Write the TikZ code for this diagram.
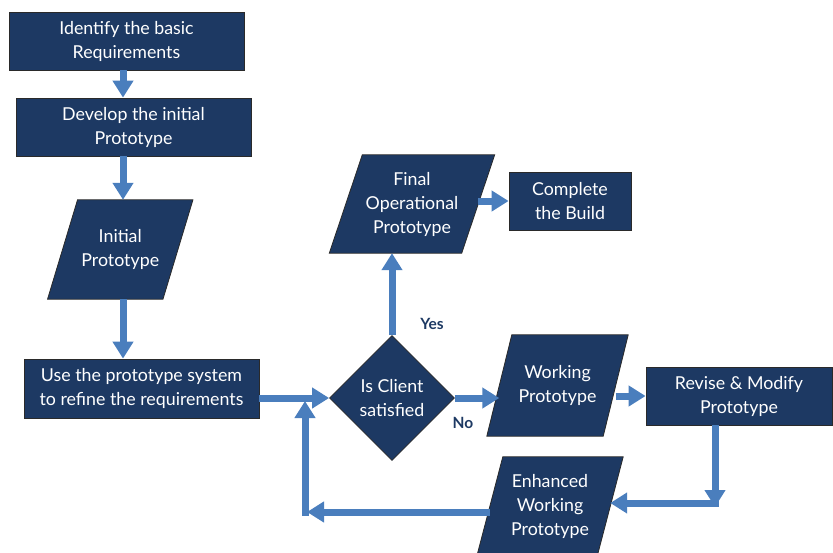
\documentclass[tikz,border=0pt]{standalone}
\usepackage{fontspec}
\setmainfont{Lato}
\usetikzlibrary{arrows.meta,shapes.geometric,backgrounds,calc}
\definecolor{navy}{HTML}{1D3963}
\definecolor{flow}{HTML}{4A7EBD}
\definecolor{edge}{HTML}{2A2A2A}
\begin{document}
\begin{tikzpicture}[x=1pt,y=-1pt,
  label text/.style={text=white, align=center, inner sep=0pt,
    font=\fontsize{17.8}{24}\selectfont},
  stepbox/.style={label text, draw=edge, line width=0.8pt, fill=navy},
  slab/.style={label text},
  decision/.style={label text, diamond, aspect=1, fill=navy, draw=edge, line width=0.8pt},
  answer/.style={text=navy, font=\fontsize{15.5}{18}\selectfont\bfseries, inner sep=0pt},
  flow/.style={draw=flow, line width=7pt, -{Triangle[width=20pt,length=17pt]}}]
\useasboundingbox (0,0) rectangle (833,552);
\clip (0,0) rectangle (833,552);

% main column
\node[stepbox, minimum width=235pt, minimum height=58pt] (ident) at (126.5,41)
  {Identify the basic\\Requirements};
\node[stepbox, minimum width=235pt, minimum height=58pt] (devel) at (133.5,127)
  {Develop the initial\\Prototype};
\node[slab, minimum width=115pt, minimum height=99pt] (init) at (120.25,249.5)
  {Initial\\Prototype};
\node[stepbox, minimum width=235pt, minimum height=59pt] (use) at (141.5,388.5)
  {Use the prototype system\\to refine the requirements};

% decision and its branches
\node[decision, minimum width=125pt, minimum height=125pt] (client) at (392,398)
  {Is Client\\satisfied};
\node[slab, minimum width=132pt, minimum height=98pt] (final) at (412,204)
  {Final\\Operational\\Prototype};
\node[stepbox, minimum width=122pt, minimum height=58pt] (build) at (570,201)
  {Complete\\the Build};
\node[slab, minimum width=116pt, minimum height=101pt] (work) at (557.5,385.5)
  {Working\\Prototype};
\node[stepbox, minimum width=186pt, minimum height=58pt] (revise) at (739,396)
  {Revise \& Modify\\Prototype};
\node[slab, minimum width=120pt, minimum height=99pt] (enh) at (550,506.5)
  {Enhanced\\Working\\Prototype};

\node[answer] (yes) at (432,324) {Yes};
\node[answer] (no) at (463,423) {No};

% slanted data shapes behind their labels
\begin{scope}[on background layer]
  \foreach \n/\s in {init/30, final/33, work/25, enh/26}{
    \filldraw[fill=navy, draw=edge, line width=0.8pt]
      ([xshift=\s/2*1pt]\n.north west) -- ([xshift=\s/2*1pt]\n.north east)
      -- ([xshift=-\s/2*1pt]\n.south east) -- ([xshift=-\s/2*1pt]\n.south west) -- cycle;
  }
\end{scope}

% connectors
\coordinate (spine) at (123,0);
\coordinate (back) at (305,512);
\coordinate (turn) at (715,503);

\draw[flow] (ident.south -| spine) -- (devel.north -| spine);
\draw[flow] (devel.south -| spine) -- (init.north -| spine);
\draw[flow] (init.south -| spine) -- (use.north -| spine);
\draw[flow] (use.east |- client.west) -- (client.west);
\draw[flow] (client.north) -- (final.south -| client.north);
\draw[flow] (final.east |- build.west) -- (build.west);
\draw[flow] (client.east) -- (client.east -| work.west);
\draw[flow] (work.east |- revise.west) -- (revise.west);
\draw[flow] (revise.south -| turn) -- ([yshift=-4pt]turn);
\draw[flow] ([xshift=3.5pt]turn) -- (enh.east |- turn);
\draw[flow] (enh.west |- back) -- ([xshift=2pt]back);
\draw[flow] ([yshift=-3.5pt]back) -- ([yshift=-3pt]back |- client.west);
\end{tikzpicture}
\end{document}
